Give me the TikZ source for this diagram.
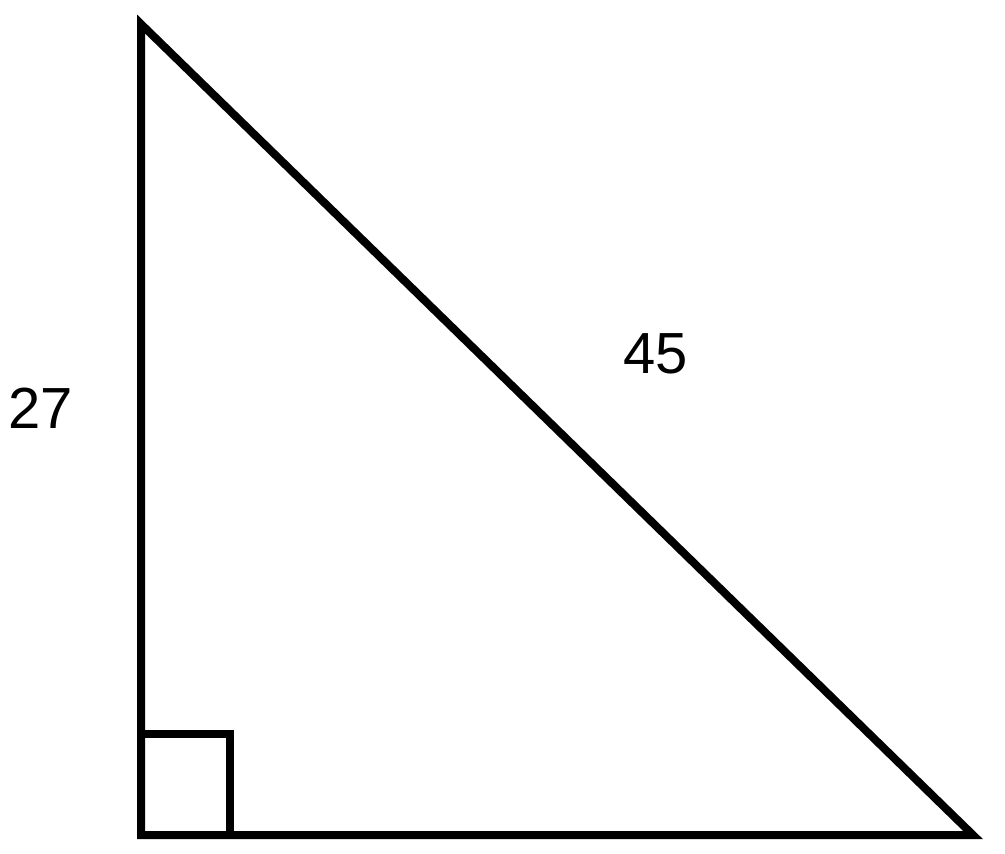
\documentclass[tikz,border=0pt]{standalone}
\usepackage{fontspec}
\setmainfont{Liberation Sans}
\begin{document}
\begin{tikzpicture}[x=1pt,y=-1pt,
  edge/.style={line width=8pt,line join=miter,black},
  lbl/.style={font=\fontsize{58}{60}\selectfont,inner sep=0pt}]
\useasboundingbox (0,0) rectangle (1005,854);
\coordinate (A) at (141,24);
\coordinate (B) at (141,835);
\coordinate (C) at (973,835);
\draw[edge] (A) -- (B) -- (C) -- cycle;
\coordinate (S1) at (141,734);
\coordinate (S2) at (230,734);
\coordinate (S3) at (230,835);
\draw[edge] (S1) -- (S2) -- (S3);
\node[lbl] (l27) at (40.5,408) {27};
\node[lbl] (l45) at (656,354) {45};
\end{tikzpicture}
\end{document}
